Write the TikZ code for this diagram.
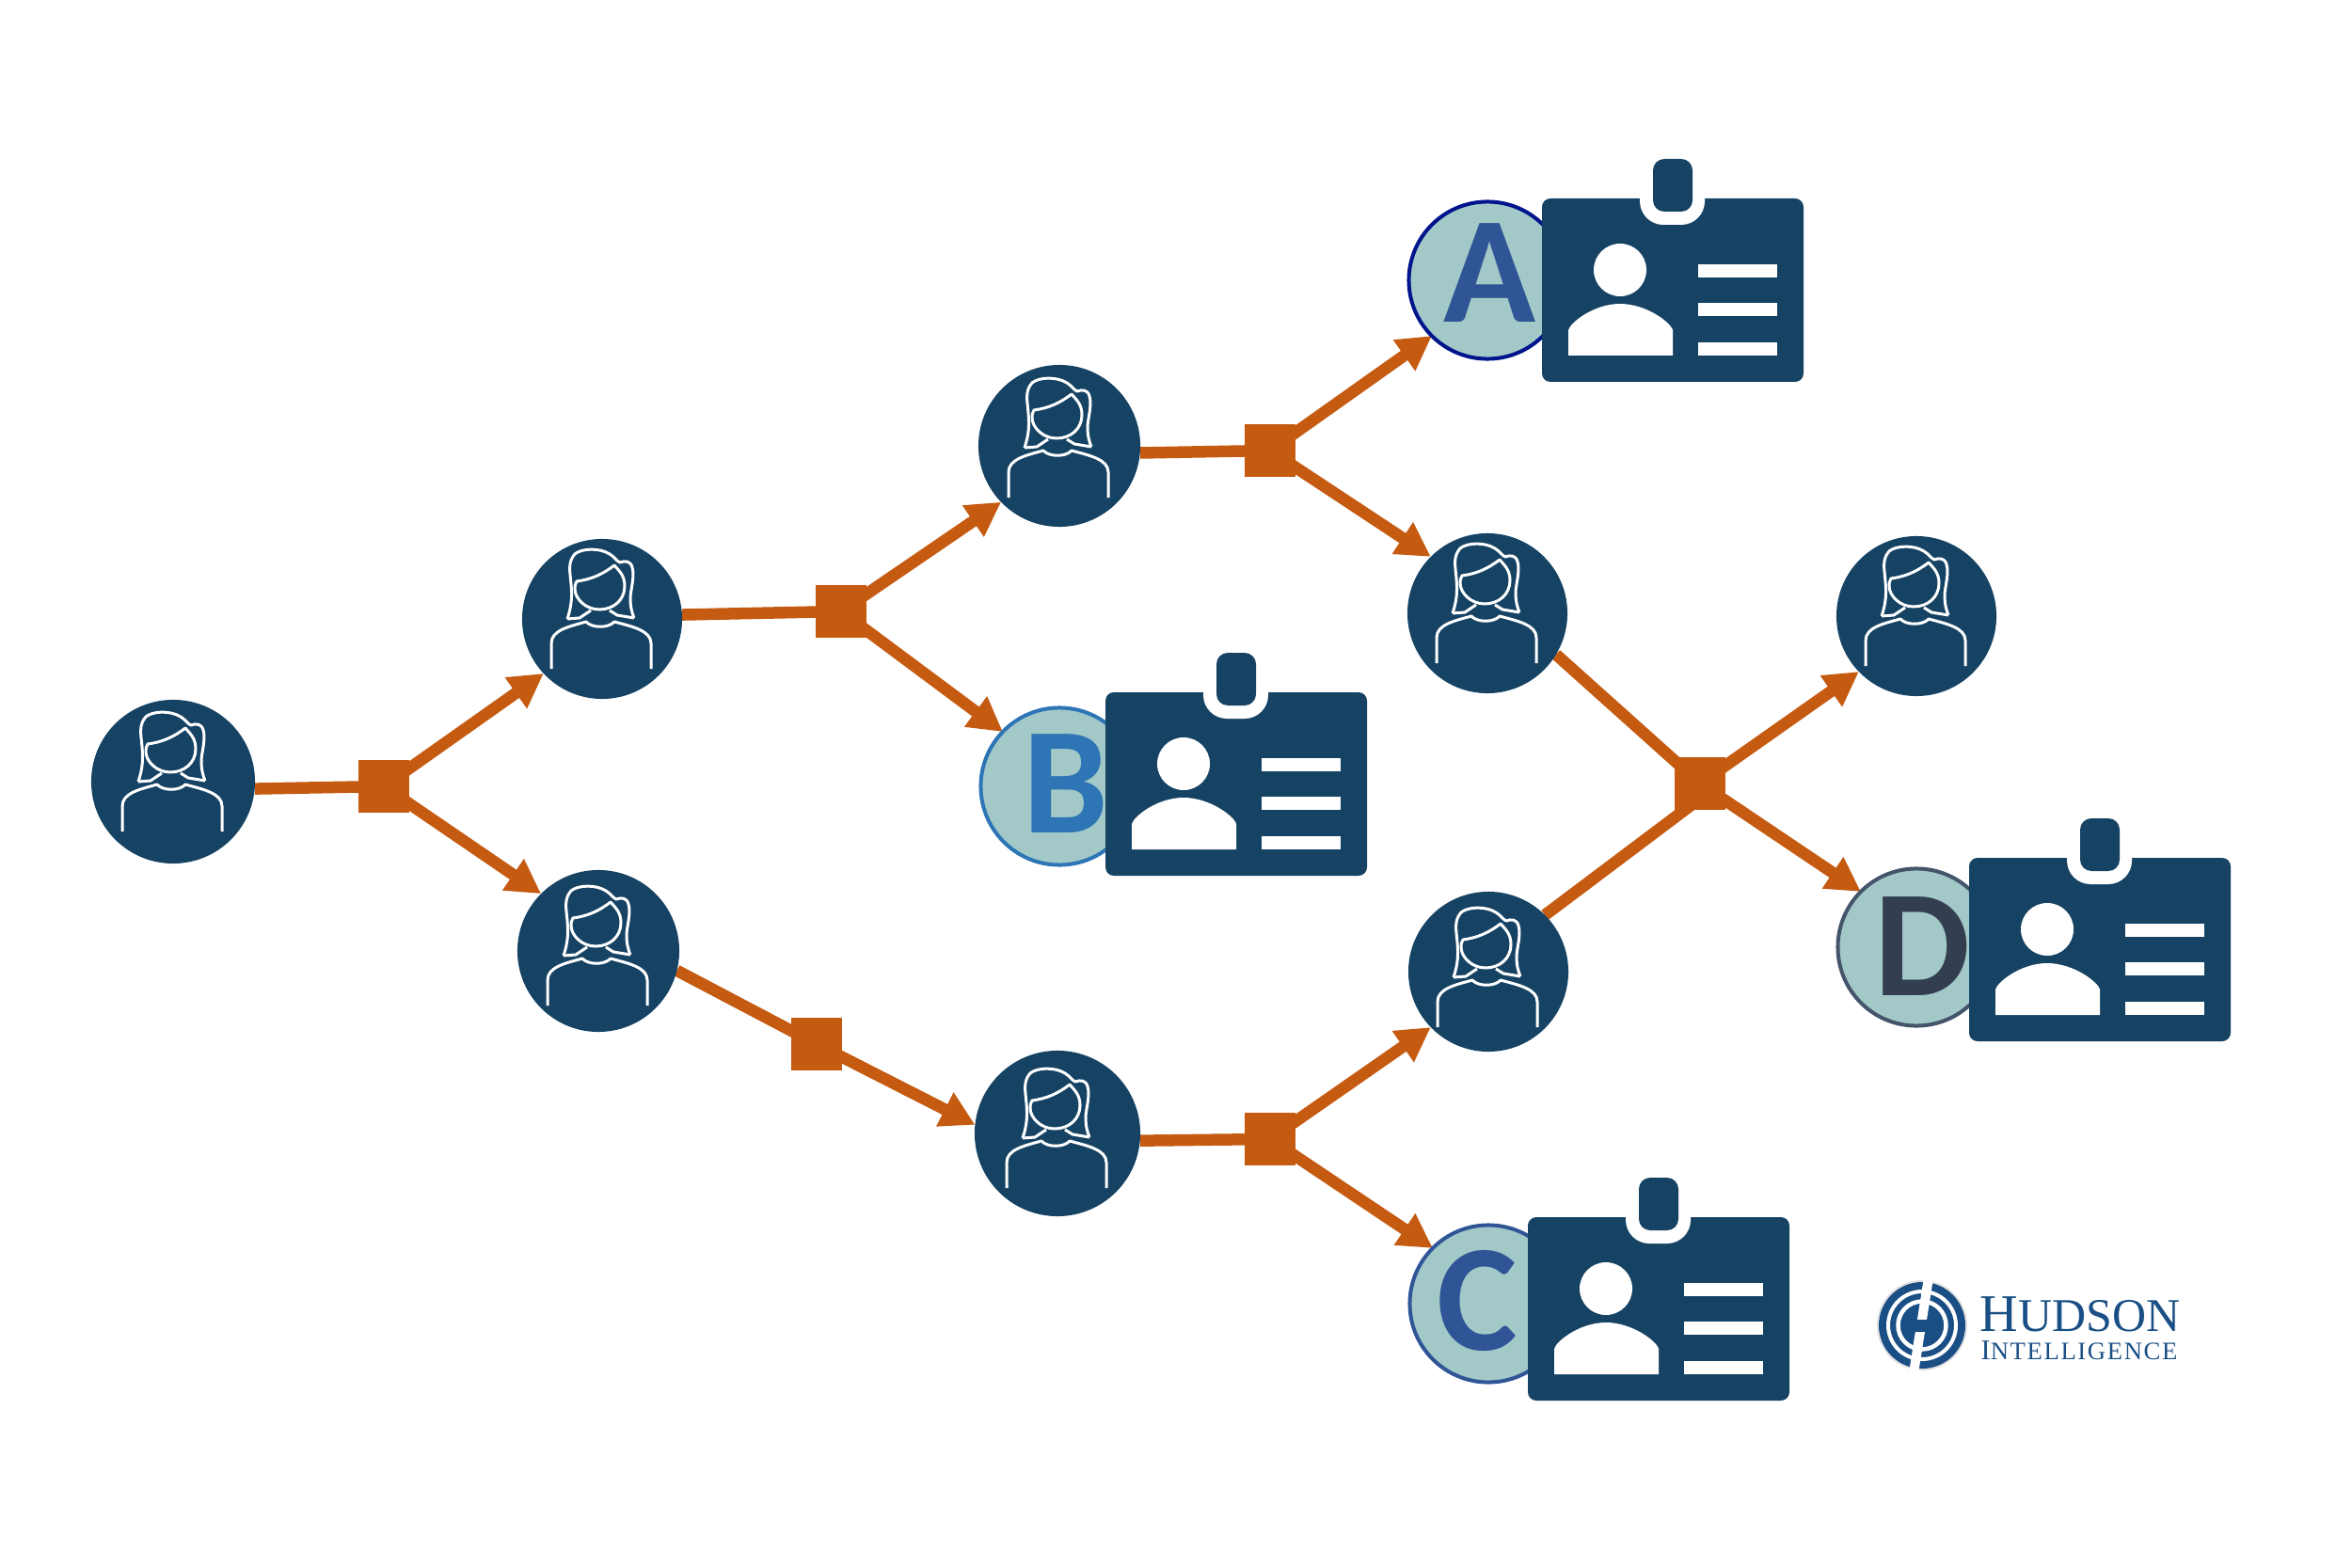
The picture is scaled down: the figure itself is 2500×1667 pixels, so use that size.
\documentclass[tikz,border=0pt]{standalone}
\usepackage{fontspec}
\usepackage{xcolor}
\usepackage{tikz}
\setmainfont{Carlito}
\newfontfamily\logofont{Liberation Serif}
\newfontfamily\logosubfont[LetterSpace=6]{Liberation Serif}
\usetikzlibrary{arrows.meta,positioning,backgrounds}
\definecolor{navy}{HTML}{164364}
\definecolor{rust}{HTML}{C55A11}
\definecolor{teal}{HTML}{A2C8C8}
\definecolor{logoblue}{HTML}{1A4F85}
\definecolor{inkA}{HTML}{2F5597}
\definecolor{lineA}{HTML}{00148C}
\definecolor{inkB}{HTML}{2E75B6}
\definecolor{inkD}{HTML}{333F50}
\definecolor{lineD}{HTML}{44546A}

\begin{document}
\begin{tikzpicture}[
  x=0.01cm, y=-0.01cm,
  woman/.pic={
    \begin{scope}[draw=white, line width=0.03cm, line join=round]
      \draw (-37,0) .. controls (-32,-15) and (-32,-25) .. (-33,-37)
            .. controls (-34,-50) and (-37,-60) .. (-29,-69)
            .. controls (-22,-75) and (-3,-76) .. (8,-69)
            .. controls (13,-66) and (16,-61) .. (19,-60)
            .. controls (24,-62) and (30,-62) .. (32,-55)
            .. controls (35,-45) and (30,-30) .. (30,-22)
            .. controls (30,-12) and (32,-6) .. (34,-1);
      \draw (-37,0) -- (-24,-1) -- (-12,-9);
      \draw (34,-1) -- (16,-4) -- (8,-9);
      \draw (-27,-40) .. controls (-12,-42) and (0,-47) .. (13,-57)
            .. controls (17,-52) and (24,-47) .. (24,-35)
            .. controls (24,-20) and (12,-10) .. (-3,-10)
            .. controls (-18,-10) and (-29,-22) .. (-29,-32)
            .. controls (-29,-36) and (-28,-38) .. cycle;
      \draw (-54,53) -- (-54,26) .. controls (-54,12) and (-35,8) .. (-17,3)
            .. controls (-11,10) and (7,10) .. (13,3)
            .. controls (31,8) and (52,12) .. (52,26) -- (52,53);
    \end{scope}
  },
  idcard/.pic={
    \fill[navy, rounded corners=0.09cm] (0,0) rectangle (278,195);
    \fill[white, rounded corners=0.25cm] (104,-42) rectangle (173,28);
    \fill[navy, rounded corners=0.12cm] (118,-42) rectangle (160,14);
    \fill[white] (83,76) circle[radius=28];
    \fill[white] (28,167) -- (28,140) .. controls (30,132) and (55,112) .. (83,112)
          .. controls (111,112) and (137,132) .. (139,140) -- (139,167) -- cycle;
    \fill[white] (166,70) rectangle (250,84);
    \fill[white] (166,111) rectangle (250,125);
    \fill[white] (166,153) rectangle (250,167);
  },
  person/.style={circle, fill=navy, inner sep=0pt, outer sep=0pt, minimum size=1.72cm,
                 path picture={\pic at ([yshift=#1]path picture bounding box.center) {woman};}},
  person/.default=0cm,
  hub/.style={rectangle, fill=rust, inner sep=0pt, outer sep=0pt,
              minimum width=0.54cm, minimum height=0.56cm},
  badge/.style={circle, fill=teal, line width=0.04cm, inner sep=0pt, outer sep=0pt,
                minimum size=1.67cm},
  letter/.style={inner sep=0pt, font=\bfseries\fontsize{46}{46}\selectfont},
  link/.style={draw=rust, line width=0.125cm},
  >={Triangle[length=0.36cm,width=0.38cm]}
]
  \useasboundingbox (0,0) rectangle (2500,1667);

  % People
  \node[person, minimum size=1.74cm] (root) at (184,831) {};
  \node[person, minimum size=1.70cm] (upper) at (640,658) {};
  \node[person=-0.05cm] (lower) at (636,1011) {};
  \node[person=-0.02cm] (upperNext) at (1126,474) {};
  \node[person=-0.05cm, minimum size=1.76cm] (lowerNext) at (1124,1205) {};
  \node[person, minimum size=1.70cm] (midTop) at (1581,652) {};
  \node[person=-0.06cm, minimum size=1.70cm] (midBottom) at (1582,1033) {};
  \node[person, minimum size=1.70cm] (last) at (2037,655) {};

  % Junctions
  \node[hub] (hubRoot) at (408,836) {};
  \node[hub] (hubUpper) at (894,650) {};
  \node[hub] (hubLower) at (868,1110) {};
  \node[hub] (hubTop) at (1350,479) {};
  \node[hub] (hubBottom) at (1350,1211) {};
  \node[hub] (hubMerge) at (1807,833) {};

  % Lettered circles
  \node[badge, draw=lineA] (badgeA) at (1581,298) {};
  \node[badge, draw=inkB] (badgeB) at (1126,836) {};
  \node[badge, draw=inkA] (badgeC) at (1582,1386) {};
  \node[badge, draw=lineD] (badgeD) at (2037,1007) {};
  \node[letter, text=inkA] (letterA) at (1583,290) {A};
  \node[letter, text=inkB] (letterB) at (1133,833) {B};
  \node[letter, text=inkA] (letterC) at (1570,1383) {C};
  \node[letter, text=inkD] (letterD) at (2043,1006) {D};

  % Cards
  \pic at (1639,211) {idcard};
  \pic at (1175,736) {idcard};
  \pic at (1624,1294) {idcard};
  \pic at (2093,912) {idcard};

  % Connectors
  \begin{scope}[on background layer]
    \draw[link] (root.-5) -- (hubRoot.center);
    \draw[link, ->] (hubRoot.center) -- (upper.223);
    \draw[link, ->] (hubRoot.center) -- (lower.135);
    \draw[link] (upper.3) -- (hubUpper.center);
    \draw[link, ->] (hubUpper.center) -- (upperNext.224);
    \draw[link, ->] (hubUpper.center) -- (badgeB.136);
    \draw[link] (lower.-14) -- (hubLower.center);
    \draw[link, ->] (hubLower.center) -- (lowerNext.174);
    \draw[link] (upperNext.-5) -- (hubTop.center);
    \draw[link, ->] (hubTop.center) -- (badgeA.225);
    \draw[link, ->] (hubTop.center) -- (midTop.135);
    \draw[link] (lowerNext.-5) -- (hubBottom.center);
    \draw[link, ->] (hubBottom.center) -- (midBottom.224);
    \draw[link, ->] (hubBottom.center) -- (badgeC.135);
    \draw[link] (midTop.-31) -- (hubMerge.center);
    \draw[link, shorten >=-0.1cm] (midBottom.45) -- (hubMerge.-120);
    \draw[link, ->] (hubMerge.center) -- (last.224);
    \draw[link, ->] (hubMerge.center) -- (badgeD.135);
  \end{scope}

  % Logo
  \fill[gray!25] (2043,1409) circle[radius=48];
  \fill[logoblue] (2043,1409) circle[radius=46];
  \draw[white, line width=0.04cm] (2043,1409) circle[radius=36];
  \draw[white, line width=0.045cm] (2043,1409) circle[radius=25.5];
  \draw[white, line width=0.1cm] (2050,1358) -- (2034,1460);
  \fill[logoblue] (2029,1403) rectangle (2057,1416);
  \node[anchor=base west, inner sep=0pt, text=logoblue] (logoName) at (2104,1415)
    {\logofont\fontsize{16}{16}\selectfont H\fontsize{14.2}{14}\selectfont UDSON};
  \node[anchor=base west, inner sep=0pt, text=logoblue] (logoSub) at (2105,1445)
    {\logosubfont\fontsize{8.6}{9}\selectfont I\fontsize{7.6}{9}\selectfont NTELLIGENCE};
\end{tikzpicture}
\end{document}
